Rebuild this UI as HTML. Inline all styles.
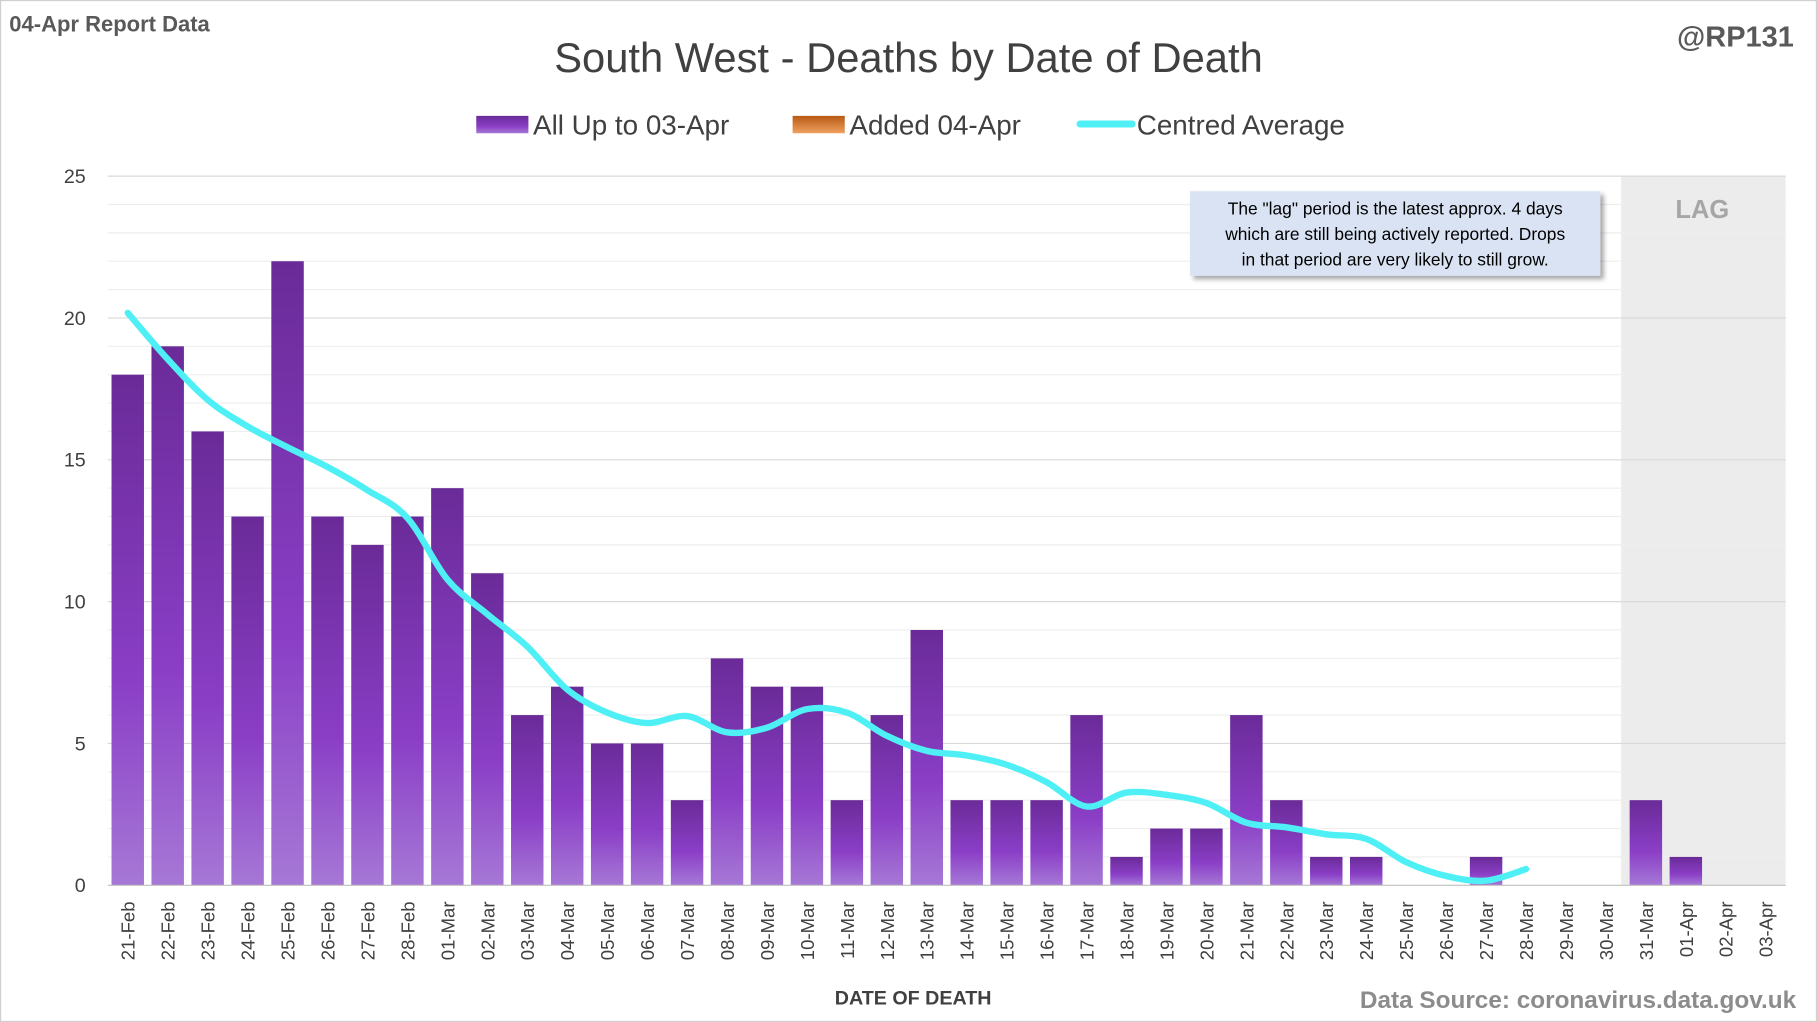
<!DOCTYPE html>
<html><head><meta charset="utf-8"><style>html,body{margin:0;padding:0;background:#fff}svg{display:block}</style></head>
<body>
<svg width="1817" height="1022" viewBox="0 0 1568 882" preserveAspectRatio="none" xmlns="http://www.w3.org/2000/svg" font-family="'Liberation Sans', sans-serif">
<defs>
<linearGradient id="bg" x1="0" y1="0" x2="0" y2="1">
<stop offset="0" stop-color="#6a2b98"/><stop offset="0.6" stop-color="#8a3ec6"/><stop offset="1" stop-color="#a678d6"/>
</linearGradient>
<linearGradient id="og" x1="0" y1="0" x2="0" y2="1"><stop offset="0" stop-color="#b85a14"/><stop offset="1" stop-color="#f0a060"/></linearGradient>
<filter id="sh"><feDropShadow dx="3" dy="3" stdDeviation="2" flood-opacity="0.35"/></filter>
</defs>
<rect x="0.5" y="0.5" width="1567" height="881" fill="#fff" stroke="#d0d0d0"/>
<rect x="1399" y="152" width="142" height="612" fill="#ececec"/>
<g id="grid"></g>
<text x="8" y="27" font-size="19" font-weight="bold" fill="#595959">04-Apr Report Data</text>
<text x="1548" y="40" font-size="25" font-weight="bold" fill="#595959" text-anchor="end">@RP131</text>
<text x="784" y="62" font-size="36" fill="#404040" text-anchor="middle">South West - Deaths by Date of Death</text>
<rect x="411" y="100" width="45" height="15" fill="url(#bg)"/>
<text x="460" y="116" font-size="24" fill="#404040">All Up to 03-Apr</text>
<rect x="684" y="100" width="45" height="15" fill="url(#og)"/>
<text x="733" y="116" font-size="24" fill="#404040">Added 04-Apr</text>
<line x1="932" y1="107" x2="977" y2="107" stroke="#4ff0f5" stroke-width="6" stroke-linecap="round"/>
<text x="981" y="116" font-size="24" fill="#404040">Centred Average</text>
<text x="1469" y="188" font-size="22" font-weight="bold" fill="#a6a6a6" text-anchor="middle">LAG</text>
<g id="bars"></g>
<path id="avg" fill="none" stroke="#4ff0f5" stroke-width="5.5" stroke-linejoin="round" stroke-linecap="round" d=""/>
<line x1="93" y1="764" x2="1541" y2="764" stroke="#bfbfbf"/>
<rect x="1027" y="165" width="354" height="73" fill="#dae3f3" filter="url(#sh)"/>
<text font-size="15" fill="#000" text-anchor="middle"><tspan x="1204" y="185">The "lag" period is the latest approx. 4 days</tspan><tspan x="1204" y="207">which are still being actively reported.  Drops</tspan><tspan x="1204" y="229">in that period are very likely to still grow.</tspan></text>
<g id="xl" font-size="16" fill="#404040"></g>
<text x="788" y="867" font-size="17" font-weight="bold" fill="#404040" text-anchor="middle">DATE OF DEATH</text>
<text x="1550" y="870" font-size="21" font-weight="bold" fill="#8c8c8c" text-anchor="end">Data Source: coronavirus.data.gov.uk</text>
</svg>
<script>
var ns="http://www.w3.org/2000/svg";
function el(t,a,p,txt){var e=document.createElementNS(ns,t);for(var k in a)e.setAttribute(k,a[k]);if(txt!=null)e.textContent=txt;p.appendChild(e);return e;}
var g=document.getElementById("grid");
for(var v=1;v<=25;v++){var y=764-v*24.48;el("line",{x1:93,x2:1541,y1:y,y2:y,stroke:v%5?"#eeeeee":"#d9d9d9"},g);}
for(var v=0;v<=25;v+=5){el("text",{x:74,y:764-v*24.48+6,"font-size":17,fill:"#404040","text-anchor":"end"},g,String(v));}
var vals=[18,19,16,13,22,13,12,13,14,11,6,7,5,5,3,8,7,7,3,6,9,3,3,3,6,1,2,2,6,3,1,1,0,0,1,0,0,0,3,1,0,0];
var labs=[];for(var d=21;d<=28;d++)labs.push(d+"-Feb");for(d=1;d<=31;d++)labs.push((d<10?"0":"")+d+"-Mar");for(d=1;d<=3;d++)labs.push("0"+d+"-Apr");
var w=1448/42,b=document.getElementById("bars"),xl=document.getElementById("xl");
for(var i=0;i<42;i++){var cx=93+w*(i+0.5);
if(vals[i]>0){var h=vals[i]*24.48;el("rect",{x:cx-14,y:764-h,width:28,height:h,fill:"url(#bg)"},b);}
el("text",{transform:"translate("+(cx+6)+",778) rotate(-90)","text-anchor":"end"},xl,labs[i]);}
var ys=[270,310,345,368,386,403,423,447,500,530,558,595,615,624,618,632,628,612,615,635,648,652,660,675,696,684,686,693,710,714,720,724,744,756,760,750];
var P=ys.map(function(y,i){return [93+w*(i+0.5),y];});
var dd="M"+P[0][0]+","+P[0][1];
for(var i=0;i<P.length-1;i++){var p0=P[Math.max(0,i-1)],p1=P[i],p2=P[i+1],p3=P[Math.min(P.length-1,i+2)];
dd+=" C"+(p1[0]+(p2[0]-p0[0])/6)+","+(p1[1]+(p2[1]-p0[1])/6)+" "+(p2[0]-(p3[0]-p1[0])/6)+","+(p2[1]-(p3[1]-p1[1])/6)+" "+p2[0]+","+p2[1];}
document.getElementById("avg").setAttribute("d",dd);
</script>
</body></html>
